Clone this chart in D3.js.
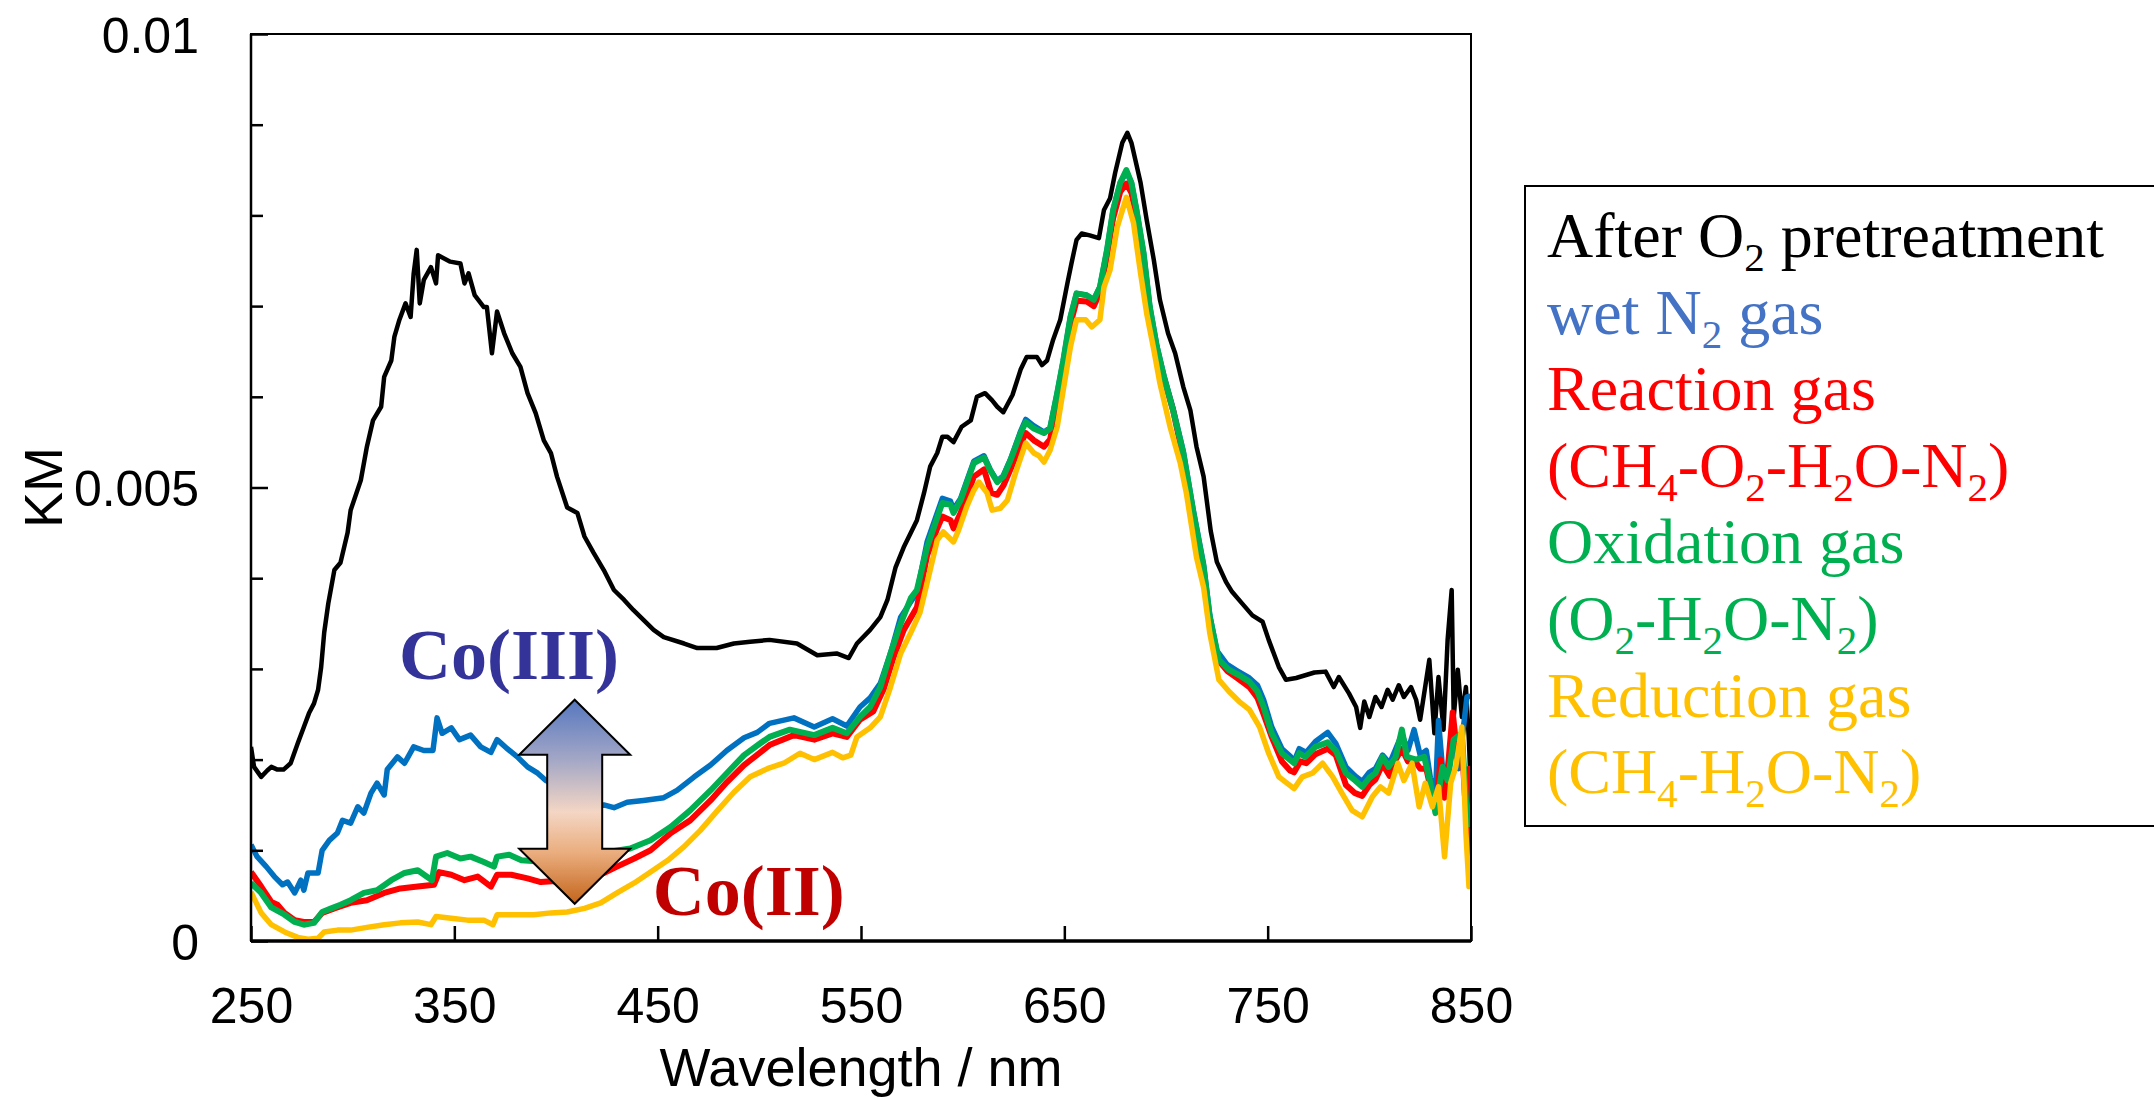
<!DOCTYPE html>
<html>
<head>
<meta charset="utf-8">
<script src="https://cdnjs.cloudflare.com/ajax/libs/d3/7.8.5/d3.min.js"></script>
<style>
  body { margin: 0; background: #fff; }
  svg { display: block; }
</style>
</head>
<body>
<script>
// Size and plot box
var width = 2154, height = 1099;
var plot = {left: 251, right: 1471, top: 34, bottom: 941};

// axis ticks
var xTicks = [250, 350, 450, 550, 650, 750, 850];
var yLabelTicks = [0, 0.005, 0.01];
var yMinorTicks = [0.001, 0.002, 0.003, 0.004, 0.006, 0.007, 0.008, 0.009];

// spectra, [wavelength nm, KM]
var afterO2 = [[250,0.00214],[251.5,0.00192],[255,0.00181],[258,0.00188],[260,0.00192],[263,0.00189],[266,0.00189],[269.5,0.00196],[273,0.00218],[276,0.00236],[278.5,0.00251],[281,0.00262],[283,0.00277],[284.5,0.00302],[286,0.0034],[288,0.00372],[291,0.00409],[294,0.00417],[297.5,0.0045],[299,0.00475],[304,0.00508],[307,0.00545],[310,0.00574],[314,0.00589],[315.5,0.00622],[319,0.0064],[320.5,0.00666],[323,0.00685],[326,0.00703],[328.5,0.00688],[330,0.00736],[331.5,0.00762],[333,0.00703],[335,0.00729],[338.5,0.00743],[341,0.00725],[342,0.00756],[348,0.00749],[353,0.00747],[355,0.00725],[357,0.00736],[360,0.00712],[364.5,0.00699],[366,0.00699],[368.5,0.00648],[371,0.00694],[374.5,0.0067],[378.5,0.00648],[382.5,0.00633],[386,0.00604],[390,0.00582],[394,0.00552],[397.5,0.00538],[400.5,0.00512],[405.5,0.00478],[410.5,0.00472],[414,0.00446],[418.5,0.00428],[423.5,0.00409],[428.5,0.00387],[433.5,0.00376],[438,0.00365],[443,0.00354],[448,0.00343],[453,0.00335],[463,0.00328],[469.5,0.00323],[479,0.00323],[487.5,0.00328],[495.5,0.0033],[505,0.00332],[518.5,0.00328],[528.5,0.00315],[538,0.00317],[544,0.00312],[548,0.00328],[554.5,0.00343],[559.5,0.00357],[563,0.00376],[567,0.00412],[571,0.00434],[574.5,0.0045],[577.5,0.00464],[581,0.00494],[584,0.00523],[587.5,0.00538],[590,0.00556],[592.5,0.00556],[595.5,0.0055],[599.5,0.00567],[604,0.00574],[607,0.006],[611,0.00604],[614.5,0.00596],[617,0.00589],[620,0.00583],[624.5,0.00602],[628.5,0.0063],[631.5,0.00644],[636.5,0.00644],[639,0.00635],[641.5,0.0064],[644.5,0.00663],[648,0.00685],[651.5,0.00725],[653.5,0.00747],[656,0.00773],[658.5,0.0078],[662.5,0.00778],[667,0.00775],[669.5,0.00806],[672.5,0.00819],[675,0.00847],[678.5,0.0088],[681,0.00891],[683,0.0088],[687.5,0.00836],[690.5,0.00795],[694,0.00751],[697,0.00707],[701,0.0067],[704.5,0.00648],[708.5,0.00611],[712,0.00585],[715,0.00545],[718.5,0.00512],[722,0.00452],[725,0.00418],[729.5,0.00396],[732.5,0.00385],[737.5,0.00372],[742.5,0.00359],[747.5,0.00352],[750.5,0.00332],[755.5,0.00302],[759,0.00288],[764,0.0029],[768.5,0.00293],[773,0.00296],[778.5,0.00297],[782.5,0.0028],[785,0.00291],[790,0.00273],[793.5,0.00258],[795.5,0.00235],[797.5,0.00264],[800,0.00247],[803,0.00269],[806,0.00258],[809,0.00277],[811.5,0.00266],[814.5,0.00282],[817,0.00269],[820.5,0.0028],[823,0.00266],[825,0.00244],[829.5,0.0031],[832,0.00229],[834,0.00291],[836.5,0.00233],[838.5,0.00332],[840.5,0.00387],[841.5,0.00247],[843.5,0.00299],[845.5,0.00247],[847.5,0.0028],[849,0.0022],[850,0.0016]];

var wetN2 = [[250,0.00106],[253,0.00093],[257.5,0.00082],[261.5,0.00071],[265.5,0.00062],[268,0.00065],[271.5,0.00053],[274.5,0.00067],[276,0.00056],[278,0.00075],[283,0.00075],[285,0.001],[288.5,0.00111],[292.5,0.00119],[295,0.00133],[299,0.0013],[302.5,0.00148],[305.5,0.00141],[309,0.00163],[312,0.00174],[315.5,0.00161],[317,0.00189],[322,0.00203],[325.5,0.00196],[330,0.00214],[335,0.0021],[339.5,0.0021],[341.5,0.00246],[344,0.00229],[348.5,0.00235],[352.5,0.00222],[358,0.00227],[363,0.00214],[368,0.00208],[371,0.00222],[375.5,0.00213],[381,0.00203],[386,0.00192],[391,0.00185],[395,0.00177],[400,0.00172],[405,0.00165],[410,0.0016],[415,0.00153],[419,0.00148],[423.5,0.0015],[428.5,0.00147],[435,0.00153],[443,0.00155],[453,0.00158],[459.5,0.00166],[468,0.00181],[476,0.00194],[484,0.0021],[492.5,0.00224],[499,0.0023],[505,0.0024],[517,0.00246],[527,0.00236],[536,0.00245],[543,0.00237],[549.5,0.00258],[554.5,0.00268],[559.5,0.00284],[564.5,0.00317],[569.5,0.00357],[574.5,0.00374],[577.5,0.00384],[582.5,0.0044],[587.5,0.00472],[590,0.00488],[594,0.00485],[595.5,0.00476],[599,0.00488],[602,0.00507],[605.5,0.00529],[610.5,0.00535],[613.5,0.0052],[617,0.00507],[620,0.00513],[623.5,0.00531],[628.5,0.00562],[631,0.00575],[635,0.00568],[640,0.00561],[643,0.00566],[646.5,0.00604],[649.5,0.0064],[653,0.00688],[656,0.00714],[661,0.00712],[664.5,0.00707],[667.5,0.00721],[671,0.00762],[674,0.00806],[677.5,0.00836],[680.5,0.00848],[683,0.00836],[685.5,0.00806],[689,0.00758],[692,0.007],[695.5,0.00656],[699,0.00623],[703.5,0.00587],[708.5,0.0054],[713.5,0.00474],[718.5,0.00415],[721.5,0.0036],[725,0.0032],[730,0.00305],[735,0.00298],[741,0.0029],[745,0.00282],[748,0.00266],[752,0.00236],[757,0.00212],[761,0.00204],[763,0.00198],[765.5,0.00212],[769,0.00208],[773.5,0.0022],[779.5,0.0023],[783.5,0.00218],[788.5,0.00192],[793,0.00182],[796.5,0.00176],[800,0.00186],[803,0.0019],[806.5,0.00205],[810,0.00196],[813,0.00212],[816,0.00228],[819,0.0021],[822,0.00233],[825,0.00205],[828,0.0021],[830,0.0018],[832.5,0.0016],[834,0.00243],[836,0.0019],[838.5,0.00185],[841.5,0.0022],[844,0.0019],[846,0.0023],[848,0.00269],[850,0.0027]];

var reaction = [[250,0.00076],[255,0.0006],[260,0.00043],[263,0.0004],[266.5,0.00031],[271.5,0.00023],[276,0.00021],[281,0.00021],[285,0.00031],[291,0.00036],[299,0.00042],[307,0.00045],[315.5,0.00053],[323.5,0.00058],[332,0.0006],[340,0.00062],[342.5,0.00076],[348.5,0.00073],[355,0.00067],[361.5,0.00071],[368,0.0006],[371,0.00073],[378,0.00073],[386,0.00069],[392.5,0.00065],[398,0.00066],[405,0.00063],[412,0.00066],[418,0.0007],[423.5,0.00075],[430,0.00082],[438.5,0.00091],[446.5,0.001],[456.5,0.00119],[466,0.00133],[476,0.00155],[484,0.00175],[492.5,0.00194],[500.5,0.00208],[505,0.00216],[517,0.00227],[527,0.00222],[536,0.00229],[543,0.00225],[549.5,0.00244],[556,0.00253],[561,0.00277],[566,0.00313],[571,0.00343],[577.5,0.00368],[582.5,0.00425],[587.5,0.00455],[590,0.00468],[594,0.00464],[595.5,0.00455],[599,0.00472],[602,0.0049],[605.5,0.00512],[610.5,0.0052],[614,0.00494],[617,0.00492],[620,0.00502],[623.5,0.0052],[628.5,0.00548],[631,0.0056],[635,0.00552],[640,0.00545],[643,0.00553],[646.5,0.00595],[649.5,0.00632],[653,0.0068],[656,0.00706],[661,0.00705],[664.5,0.007],[667.5,0.00715],[671,0.00755],[674,0.00797],[677.5,0.00826],[680.5,0.00835],[683,0.00825],[685.5,0.00798],[689,0.00752],[692,0.00694],[695.5,0.00652],[699,0.0062],[703.5,0.00585],[708.5,0.00533],[713.5,0.00468],[718.5,0.00408],[721.5,0.0035],[725,0.00312],[730,0.00298],[735,0.0029],[741,0.0028],[745,0.00268],[748,0.0025],[752,0.00225],[757,0.00198],[761,0.00188],[763,0.00186],[766,0.00198],[769,0.00196],[773.5,0.00206],[779.5,0.00212],[783.5,0.00205],[788.5,0.00172],[793,0.00163],[796.5,0.0016],[800,0.00172],[803,0.00178],[806.5,0.00195],[810,0.00182],[813,0.002],[816,0.00212],[819,0.00198],[822,0.002],[825,0.0019],[828,0.0019],[830,0.0017],[833,0.0015],[835,0.002],[837,0.00158],[839,0.002],[841,0.00252],[843,0.0021],[845.5,0.0022],[847,0.0016],[849,0.0019],[850,0.0009]];

var oxidation = [[250,0.00064],[255,0.00053],[260,0.00037],[266.5,0.00029],[271.5,0.00021],[276,0.00018],[281,0.0002],[285,0.00032],[289.5,0.00036],[294,0.0004],[299,0.00045],[305.5,0.00053],[312,0.00056],[319,0.00067],[325.5,0.00075],[332,0.00078],[339,0.00067],[341,0.00093],[346.5,0.00097],[353,0.00091],[358,0.00093],[364.5,0.00087],[369.5,0.00082],[371,0.00093],[377,0.00095],[383,0.00089],[390,0.00088],[400,0.0009],[410,0.00092],[420,0.00095],[428,0.00099],[436.5,0.00102],[446.5,0.00111],[456.5,0.00126],[466,0.00144],[476,0.00166],[484,0.00185],[492.5,0.00205],[500.5,0.00218],[505,0.00225],[515,0.00233],[527,0.00227],[536,0.00235],[543,0.00229],[549.5,0.00247],[554.5,0.00258],[559.5,0.0028],[564.5,0.00317],[569.5,0.0035],[574.5,0.00378],[577.5,0.00387],[582.5,0.00434],[587.5,0.00467],[590,0.00483],[594,0.00481],[595.5,0.00472],[599,0.00486],[602,0.00505],[605.5,0.00527],[610.5,0.00533],[613.5,0.00519],[617,0.00506],[620,0.00512],[623.5,0.0053],[628.5,0.0056],[631,0.00572],[635,0.00565],[640,0.0056],[643,0.00565],[646.5,0.00604],[649.5,0.0064],[653,0.00688],[656,0.00714],[661,0.00712],[664.5,0.00707],[667.5,0.00721],[671,0.00762],[674,0.00806],[677.5,0.00836],[680.5,0.0085],[683,0.00836],[685.5,0.00806],[689,0.00758],[692,0.00699],[695.5,0.00655],[699,0.00622],[703.5,0.00585],[708.5,0.00538],[713.5,0.00472],[718.5,0.00412],[721.5,0.00357],[726,0.0031],[731,0.00299],[736,0.00293],[741,0.00286],[745,0.00275],[748,0.00258],[752,0.00229],[757,0.00207],[763,0.00196],[765.5,0.00207],[768.5,0.00203],[773.5,0.00214],[779.5,0.00219],[783.5,0.0021],[788.5,0.00185],[793,0.00177],[796.5,0.0017],[800,0.0018],[803,0.00185],[806.5,0.00203],[809.5,0.00192],[813,0.00203],[816,0.00233],[818.5,0.00203],[823,0.002],[827,0.00203],[830,0.00174],[832.5,0.00141],[836,0.00192],[838.5,0.00177],[841.5,0.00222],[845.5,0.00229],[847.5,0.00155],[850,0.00126]];

var reduction = [[250,0.00054],[255,0.00031],[260,0.00018],[266.5,0.0001],[273,0.00004],[278,0.00002],[283,0.00003],[286,0.0001],[292.5,0.00012],[299,0.00012],[307,0.00015],[315.5,0.00018],[323.5,0.0002],[332,0.00021],[338.5,0.00018],[341,0.00027],[348.5,0.00025],[356.5,0.00023],[364.5,0.00023],[369,0.00018],[371,0.00029],[381,0.00029],[389,0.00029],[397.5,0.00031],[405.5,0.00032],[414,0.00036],[422,0.00042],[430,0.00053],[438.5,0.00064],[446.5,0.00076],[455,0.00089],[463,0.00104],[471,0.00122],[479.5,0.00144],[487.5,0.00164],[495.5,0.00181],[505,0.00191],[512,0.00196],[520,0.00207],[527,0.002],[536,0.00208],[541,0.00202],[545,0.00205],[548,0.00225],[554.5,0.00235],[559.5,0.00247],[564.5,0.0028],[569.5,0.00317],[574.5,0.0034],[579,0.00362],[584,0.00409],[587.5,0.00442],[590.5,0.00451],[595.5,0.0044],[598,0.00453],[602,0.00479],[605.5,0.00497],[608,0.00506],[612,0.00494],[614.5,0.00475],[618.5,0.00477],[622,0.00486],[626,0.00516],[631,0.00549],[635,0.00538],[637.5,0.00535],[640,0.00528],[643,0.00541],[646.5,0.00567],[649.5,0.00608],[653,0.00655],[656,0.00685],[660.5,0.00685],[663.5,0.00677],[667.5,0.00685],[669.5,0.00721],[672.5,0.0074],[676,0.00787],[680.5,0.0082],[684,0.00792],[687.5,0.00736],[690.5,0.00692],[694,0.00652],[697,0.00615],[702,0.00567],[707,0.00527],[710,0.00494],[715,0.00423],[718.5,0.0039],[721.5,0.0034],[726,0.00288],[731,0.00275],[736,0.00264],[741,0.00255],[746,0.00236],[750.5,0.00207],[755.5,0.00181],[759.5,0.00174],[763,0.00168],[767,0.00181],[772,0.00185],[777,0.00196],[782,0.00181],[786.5,0.00163],[791.5,0.00144],[796.5,0.00137],[801.5,0.00159],[805.5,0.0017],[809.5,0.00163],[814,0.00196],[817,0.00177],[821,0.00196],[824.5,0.00148],[827.5,0.00174],[831,0.00148],[834,0.0017],[837,0.00093],[840,0.00174],[842.5,0.00192],[845.5,0.00236],[847.5,0.00119],[849,0.0006],[850,0.0006]];

// draw order: black first, yellow on top
var series = [
  {data: afterO2,   color: "#000000", w: 4.5},
  {data: wetN2,     color: "#0070C0", w: 5.5},
  {data: reaction,  color: "#FF0000", w: 6},
  {data: oxidation, color: "#00B050", w: 6},
  {data: reduction, color: "#FFC000", w: 5.5}
];

// legend rows: [text, subscript?]
var legendRows = [
  {color: "#000000", parts: [["After O", 0], ["2", 1], [" pretreatment", 0]]},
  {color: "#4472C4", parts: [["wet N", 0], ["2", 1], [" gas", 0]]},
  {color: "#FF0000", parts: [["Reaction gas", 0]]},
  {color: "#FF0000", parts: [["(CH", 0], ["4", 1], ["-O", 0], ["2", 1], ["-H", 0], ["2", 1], ["O-N", 0], ["2", 1], [")", 0]]},
  {color: "#00B050", parts: [["Oxidation gas", 0]]},
  {color: "#00B050", parts: [["(O", 0], ["2", 1], ["-H", 0], ["2", 1], ["O-N", 0], ["2", 1], [")", 0]]},
  {color: "#FFC000", parts: [["Reduction gas", 0]]},
  {color: "#FFC000", parts: [["(CH", 0], ["4", 1], ["-H", 0], ["2", 1], ["O-N", 0], ["2", 1], [")", 0]]}
];

var svg = d3.select("body").append("svg")
    .attr("width", width)
    .attr("height", height);

var x = d3.scaleLinear().domain([250, 850]).range([plot.left, plot.right]);
var y = d3.scaleLinear().domain([0, 0.01]).range([plot.bottom, plot.top]);

svg.append("defs").append("clipPath").attr("id", "clip")
  .append("rect")
    .attr("x", plot.left).attr("y", plot.top - 4)
    .attr("width", plot.right - plot.left).attr("height", plot.bottom - plot.top + 4);

// spectra
var line = d3.line()
    .x(function(d) { return x(d[0]); })
    .y(function(d) { return y(d[1]); });

svg.append("g").attr("clip-path", "url(#clip)")
  .selectAll("path")
  .data(series)
  .enter()
  .append("path")
    .attr("d", function(d) { return line(d.data); })
    .attr("fill", "none")
    .attr("stroke", function(d) { return d.color; })
    .attr("stroke-width", function(d) { return d.w; })
    .attr("stroke-linejoin", "round");

// frame
svg.append("rect")
    .attr("x", plot.left).attr("y", plot.top)
    .attr("width", plot.right - plot.left).attr("height", plot.bottom - plot.top)
    .attr("fill", "none").attr("stroke", "#000").attr("stroke-width", 2);
svg.append("line")
    .attr("x1", plot.left).attr("x2", plot.right)
    .attr("y1", plot.bottom).attr("y2", plot.bottom)
    .attr("stroke", "#000").attr("stroke-width", 3.5);
svg.append("line")
    .attr("x1", plot.left).attr("x2", plot.left)
    .attr("y1", plot.top).attr("y2", plot.bottom)
    .attr("stroke", "#000").attr("stroke-width", 2.5);

// inward ticks
function styleAxis(g) {
  g.select(".domain").remove();
  g.selectAll(".tick line").attr("stroke", "#000").attr("stroke-width", 2.5);
}
svg.append("g")
    .attr("transform", "translate(0," + plot.bottom + ")")
    .call(d3.axisTop(x).tickValues(xTicks).tickSize(15).tickFormat(""))
    .call(styleAxis);
svg.append("g")
    .attr("transform", "translate(" + plot.left + ",0)")
    .call(d3.axisRight(y).tickValues(yMinorTicks).tickSize(12).tickFormat(""))
    .call(styleAxis);
svg.append("g")
    .attr("transform", "translate(" + plot.left + ",0)")
    .call(d3.axisRight(y).tickValues(yLabelTicks).tickSize(17).tickFormat(""))
    .call(styleAxis);

// tick labels
var xLab = svg.append("g")
    .attr("transform", "translate(0," + plot.bottom + ")")
    .call(d3.axisBottom(x).tickValues(xTicks).tickSize(0).tickPadding(46).tickFormat(d3.format("d")));
xLab.select(".domain").remove();
xLab.selectAll("text").attr("font-family", "'Liberation Sans', Arial, sans-serif").attr("font-size", 50).attr("fill", "#000");

var yLab = svg.append("g")
    .attr("transform", "translate(" + plot.left + ",0)")
    .call(d3.axisLeft(y).tickValues(yLabelTicks).tickSize(0).tickPadding(52)
      .tickFormat(function(d) { return d === 0 ? "0" : String(d); }));
yLab.select(".domain").remove();
yLab.selectAll("text").attr("font-family", "'Liberation Sans', Arial, sans-serif").attr("font-size", 50).attr("fill", "#000").attr("dy", "0.36em");

// axis titles
svg.append("text")
    .attr("x", (plot.left + plot.right) / 2).attr("y", 1086)
    .attr("text-anchor", "middle")
    .attr("font-family", "'Liberation Sans', Arial, sans-serif").attr("font-size", 54)
    .text("Wavelength / nm");
svg.append("text")
    .attr("transform", "translate(62," + (plot.top + plot.bottom) / 2 + ") rotate(-90)")
    .attr("text-anchor", "middle")
    .attr("font-family", "'Liberation Sans', Arial, sans-serif").attr("font-size", 54)
    .text("KM");

// Co(III) <-> Co(II) arrow
var grad = svg.select("defs").append("linearGradient")
    .attr("id", "arrowGrad").attr("x1", 0).attr("y1", 0).attr("x2", 0).attr("y2", 1);
[["0%", "#5677BF"], ["30%", "#A5A8C6"], ["55%", "#F4D6C4"], ["75%", "#EAAD7E"], ["100%", "#C4651B"]]
  .forEach(function(s) { grad.append("stop").attr("offset", s[0]).attr("stop-color", s[1]); });

var ax = x(409.2), aTop = y(0.00266), aBot = y(0.00041);
var head = 55, headW = 55.5, shaftW = 27.5;
var arrowPath = [
  [ax, aTop], [ax + headW, aTop + head], [ax + shaftW, aTop + head],
  [ax + shaftW, aBot - head], [ax + headW, aBot - head], [ax, aBot],
  [ax - headW, aBot - head], [ax - shaftW, aBot - head], [ax - shaftW, aTop + head],
  [ax - headW, aTop + head]
];
svg.append("path")
    .attr("d", "M" + arrowPath.join("L") + "Z")
    .attr("fill", "url(#arrowGrad)")
    .attr("stroke", "#000").attr("stroke-width", 2);

svg.append("text")
    .attr("x", x(322.8)).attr("y", y(0.00289))
    .attr("font-family", "'Liberation Serif', 'Times New Roman', serif")
    .attr("font-weight", "bold").attr("font-size", 72).attr("fill", "#333399")
    .text("Co(III)");
svg.append("text")
    .attr("x", x(447.6)).attr("y", y(0.00029))
    .attr("font-family", "'Liberation Serif', 'Times New Roman', serif")
    .attr("font-weight", "bold").attr("font-size", 72).attr("fill", "#C00000")
    .text("Co(II)");

// legend
var legend = svg.append("g");
legend.append("rect")
    .attr("x", 1525).attr("y", 186)
    .attr("width", 700).attr("height", 640)
    .attr("fill", "#fff").attr("stroke", "#000").attr("stroke-width", 2);

legendRows.forEach(function(row, i) {
  var t = legend.append("text")
      .attr("x", 1547).attr("y", 257 + i * 76.6)
      .attr("font-family", "'Liberation Serif', 'Times New Roman', serif")
      .attr("font-size", 64).attr("fill", row.color);
  var shifted = false;
  row.parts.forEach(function(p) {
    var ts = t.append("tspan").text(p[0]);
    if (p[1]) {
      ts.attr("font-size", 41).attr("dy", 14);
      shifted = true;
    } else if (shifted) {
      ts.attr("dy", -14);
      shifted = false;
    }
  });
});
</script>
</body>
</html>
